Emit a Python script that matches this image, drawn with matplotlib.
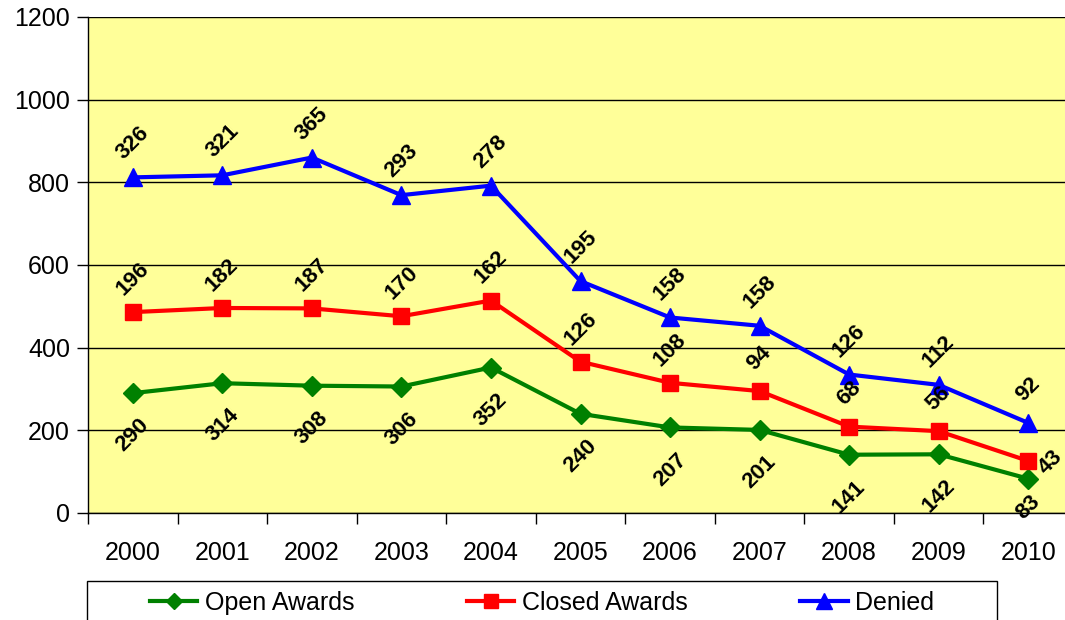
import matplotlib.pyplot as plt
import matplotlib.patches as mpatches
from matplotlib.ticker import FixedLocator

plt.rcParams['font.family'] = ['Liberation Sans', 'DejaVu Sans']

years = ['2000', '2001', '2002', '2003', '2004', '2005', '2006', '2007', '2008', '2009', '2010']
open_awards = [290, 314, 308, 306, 352, 240, 207, 201, 141, 142, 83]
closed_awards = [196, 182, 187, 170, 162, 126, 108, 94, 68, 56, 43]
denied = [326, 321, 365, 293, 278, 195, 158, 158, 126, 112, 92]

# stacked lines: each series sits on top of the one before
closed_top = [o + c for o, c in zip(open_awards, closed_awards)]
denied_top = [c + d for c, d in zip(closed_top, denied)]

fig = plt.figure(figsize=(10.65, 6.2), dpi=100)
ax = fig.add_axes([88 / 1065, 1 - 513 / 620, 985 / 1065, 496 / 620])
ax.set_facecolor('#FFFF99')

x = list(range(len(years)))
ax.plot(x, open_awards, color='#008000', lw=3, marker='D', ms=10, label='Open Awards', zorder=3)
ax.plot(x, closed_top, color='#FF0000', lw=3, marker='s', ms=12, label='Closed Awards', zorder=3)
ax.plot(x, denied_top, color='#0000FF', lw=3, marker='^', ms=13, label='Denied', zorder=3)

lab = dict(rotation=45, rotation_mode='anchor', ha='center', va='center',
           fontsize=16, fontweight='bold', color='black', zorder=4)
for i in x:
    ax.text(i, max(open_awards[i] - 102, 14), str(open_awards[i]), **lab)
    if i == len(x) - 1:
        ax.annotate(str(closed_awards[i]), (i, closed_top[i]), xytext=(16, -1),
                    textcoords='offset points', **lab)
    else:
        ax.text(i, closed_top[i] + 80, str(closed_awards[i]), **lab)
    ax.text(i, denied_top[i] + 82, str(denied[i]), **lab)

ax.set_ylim(0, 1200)
ax.set_xlim(-0.5, len(years) - 0.5)
ax.set_yticks(range(0, 1201, 200))
ax.tick_params(axis='y', labelsize=18, length=8, width=1, pad=5)
ax.yaxis.grid(True, color='black', lw=1)
ax.set_axisbelow(True)

ax.set_xticks(x)
ax.set_xticklabels(years)
ax.xaxis.set_minor_locator(FixedLocator([i - 0.5 for i in range(len(years) + 1)]))
ax.tick_params(axis='x', which='major', length=0, labelsize=18, pad=20)
ax.tick_params(axis='x', which='minor', length=8, width=1)

for s in ['top', 'right']:
    ax.spines[s].set_visible(False)
ax.spines['left'].set_linewidth(1)
ax.spines['bottom'].set_linewidth(1)

# legend box drawn separately so the entries can sit inside with wide gaps
fig.patches.append(mpatches.Rectangle((87 / 1065, -0.05), 910 / 1065, 0.05 + (620 - 581) / 620,
                                      transform=fig.transFigure, fill=False,
                                      edgecolor='black', lw=1))
fig.legend(loc='center', bbox_to_anchor=(542 / 1065, 1 - 603 / 620), ncol=3, fontsize=18,
           frameon=False, handlelength=1.9, handletextpad=0.3, columnspacing=4.5,
           markerscale=0.85, borderaxespad=0)

fig.savefig('out.png', dpi=100)
